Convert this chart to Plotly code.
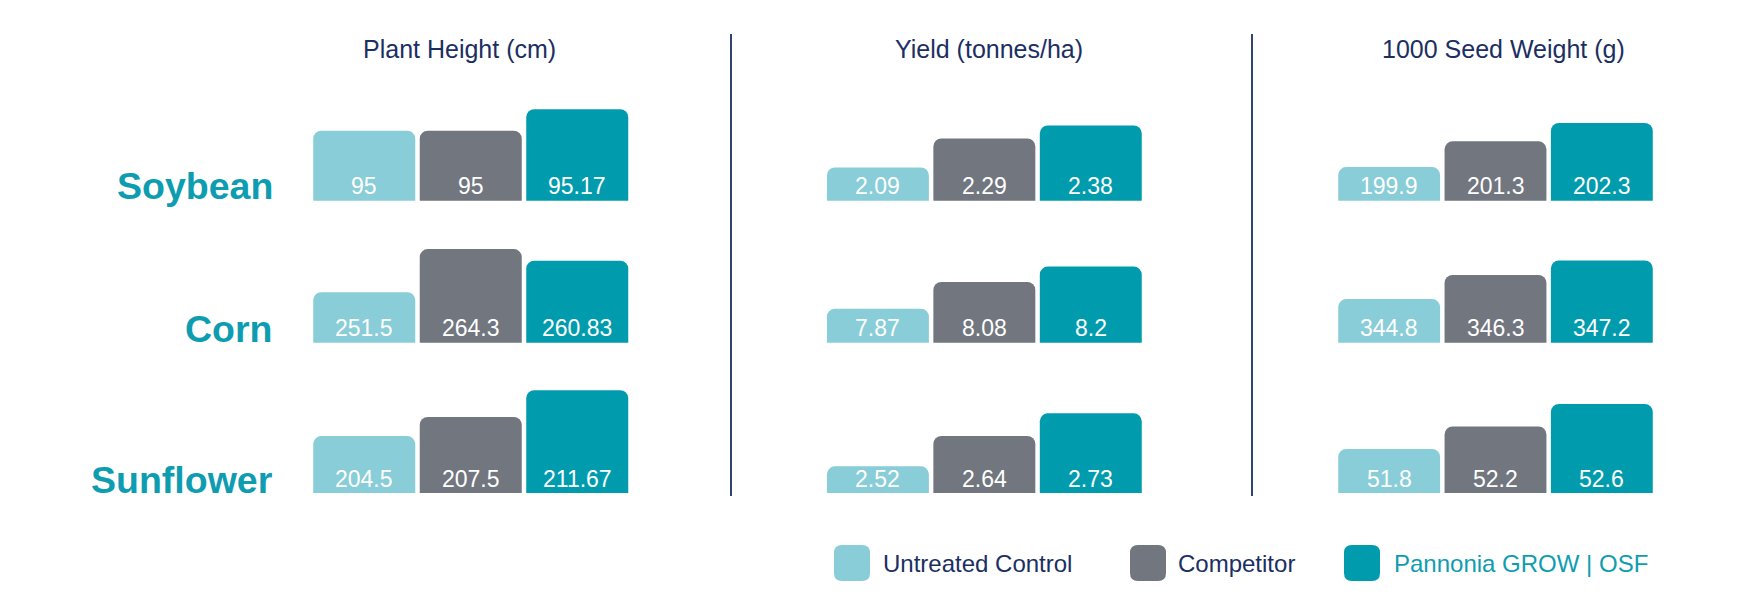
import plotly.graph_objects as go

# ---------------- data ----------------
crops = ["Soybean", "Corn", "Sunflower"]
treatments = ["Untreated Control", "Competitor", "Pannonia GROW | OSF"]
metrics = ["Plant Height (cm)", "Yield (tonnes/ha)", "1000 Seed Weight (g)"]

plant_height = [[95, 95, 95.17], [251.5, 264.3, 260.83], [204.5, 207.5, 211.67]]
yield_tonnes = [[2.09, 2.29, 2.38], [7.87, 8.08, 8.2], [2.52, 2.64, 2.73]]
seed_weight = [[199.9, 201.3, 202.3], [344.8, 346.3, 347.2], [51.8, 52.2, 52.6]]

# ---------------- style ----------------
PAGE_W, PAGE_H = 1748, 614
OFF = 8                      # browser body margin
W, H = PAGE_W - OFF, PAGE_H - OFF
colors = ["#88CDD8", "#71767F", "#009CAE"]
navy = "#1B2F62"
teal = "#0E9DB0"
font = "Liberation Sans"

# truncated value axes per cell (column = metric, row = crop)
y_ranges = [
    [[94.444, 95.397], [236.494, 272.13], [195.61, 214.36]],
    [[1.8604, 2.6891], [7.6048, 8.5426], [2.4141, 2.8898]],
    [[198.074, 204.596], [342.087, 349.55], [51.0165, 53.150]],
]

col_px = [(311, 630.5), (824.7, 1144), (1336, 1655)]
row_bottom_px = [200.7, 342.7, 493]
row_h_px = 120
title_x_px = [460, 988.5, 1503]
title_y_px = 48.5
label_right_px = 275
label_y_px = [186, 329, 480]
divider_x_px = [731, 1252]
divider_y_px = (34, 496)


def px_x(x):
    return (x - OFF) / W


def px_y(y):
    return 1 - (y - OFF) / H


fig = go.Figure()
values = [plant_height, yield_tonnes, seed_weight]
annotations = []
shapes = []

idx = 0
for c, metric_vals in enumerate(values):
    for r, row_vals in enumerate(metric_vals):
        idx += 1
        xa = "x" if idx == 1 else f"x{idx}"
        ya = "y" if idx == 1 else f"y{idx}"
        fig.add_trace(go.Bar(
            x=treatments, y=row_vals, xaxis=xa, yaxis=ya,
            marker=dict(color=colors, cornerradius=8, line=dict(width=0)),
            showlegend=False, hoverinfo="skip",
        ))
        xk = "xaxis" if idx == 1 else f"xaxis{idx}"
        yk = "yaxis" if idx == 1 else f"yaxis{idx}"
        x0, x1 = col_px[c]
        b = row_bottom_px[r]
        fig.layout[xk] = dict(domain=[px_x(x0), px_x(x1)], anchor=ya, visible=False,
                              fixedrange=True)
        fig.layout[yk] = dict(domain=[px_y(b), px_y(b - row_h_px)], anchor=xa,
                              range=y_ranges[c][r], visible=False, fixedrange=True)
        for t, v in zip(treatments, row_vals):
            annotations.append(dict(
                x=t, y=0, xref=xa, yref=f"{ya} domain", yanchor="middle", yshift=14.5,
                text=f"{v:g}", showarrow=False,
                font=dict(family=font, size=23, color="white"),
            ))

# metric titles
for c, m in enumerate(metrics):
    annotations.append(dict(x=px_x(title_x_px[c]), y=px_y(title_y_px), xref="paper", yref="paper",
                            text=m, showarrow=False, xanchor="center", yanchor="middle",
                            font=dict(family=font, size=25, color=navy)))
# crop labels
for r, crop in enumerate(crops):
    annotations.append(dict(x=px_x(label_right_px), y=px_y(label_y_px[r]), xref="paper", yref="paper",
                            text=f"<b>{crop}</b>", showarrow=False, xanchor="right", yanchor="middle",
                            font=dict(family=font, size=37.5, color=teal)))

# dividers
for dx in divider_x_px:
    shapes.append(dict(type="line", xref="paper", yref="paper",
                       x0=px_x(dx), x1=px_x(dx), y0=px_y(divider_y_px[0]), y1=px_y(divider_y_px[1]),
                       line=dict(color=navy, width=1.8)))

# legend (rounded swatches + labels)
legend_sw_x = [834, 1130, 1344]
legend_txt_x = [881, 1175.5, 1392]
legend_y = 563
sw = 36
rad = 8
legend_text_colors = [navy, navy, teal]


def rounded_rect(x0, y0, x1, y1, r):
    X = px_x
    Y = px_y
    return (f"M {X(x0 + r)},{Y(y0)} L {X(x1 - r)},{Y(y0)} Q {X(x1)},{Y(y0)} {X(x1)},{Y(y0 + r)} "
            f"L {X(x1)},{Y(y1 - r)} Q {X(x1)},{Y(y1)} {X(x1 - r)},{Y(y1)} "
            f"L {X(x0 + r)},{Y(y1)} Q {X(x0)},{Y(y1)} {X(x0)},{Y(y1 - r)} "
            f"L {X(x0)},{Y(y0 + r)} Q {X(x0)},{Y(y0)} {X(x0 + r)},{Y(y0)} Z")


for i, t in enumerate(treatments):
    x0 = legend_sw_x[i]
    shapes.append(dict(type="path", xref="paper", yref="paper",
                       path=rounded_rect(x0, legend_y - sw / 2, x0 + sw, legend_y + sw / 2, rad),
                       fillcolor=colors[i], line=dict(width=0)))
    annotations.append(dict(x=px_x(legend_txt_x[i]), y=px_y(legend_y), xref="paper", yref="paper",
                            text=t, showarrow=False, xanchor="left", yanchor="middle",
                            font=dict(family=font, size=24, color=legend_text_colors[i])))

fig.update_layout(
    width=W, height=H,
    margin=dict(l=0, r=0, t=0, b=0),
    paper_bgcolor="white", plot_bgcolor="white",
    bargap=0.042,
    annotations=annotations, shapes=shapes,
    showlegend=False,
)

fig.write_html("out.html")
